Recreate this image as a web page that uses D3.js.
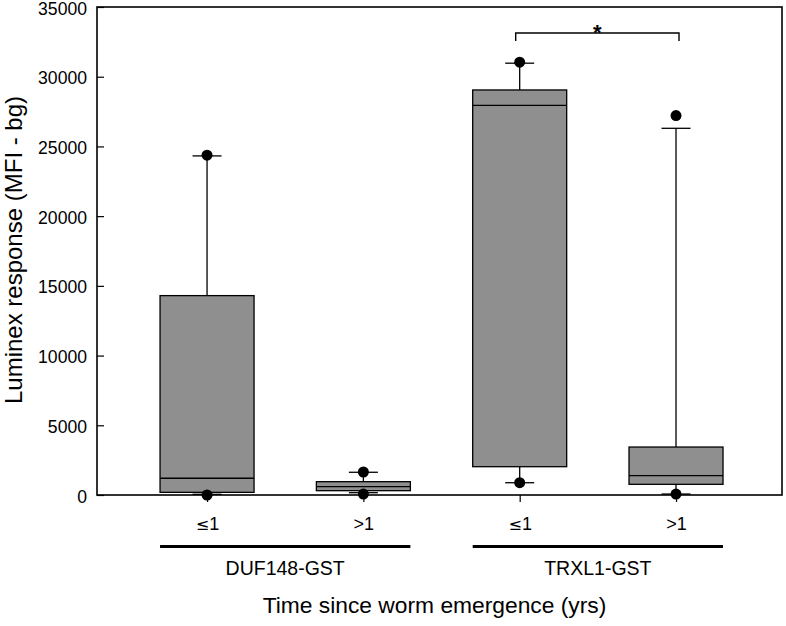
<!DOCTYPE html>
<html><head><meta charset="utf-8">
<script src="https://cdn.jsdelivr.net/npm/d3@7"></script>
<style>body{margin:0;background:#fff}svg{display:block;font-family:Arial,"Liberation Sans",sans-serif}</style>
</head><body>
<script>
const categories = ["\u22641", ">1", "\u22641", ">1"];
const groups = ["DUF148-GST", "TRXL1-GST"];
const groupOf = [0, 0, 1, 1];
const q1 = [190, 310, 2030, 765];
const median = [1200, 600, 27950, 1385];
const q3 = [14300, 955, 29050, 3440];
const whiskerLow = [50, 165, 880, 70];
const whiskerHigh = [24320, 1630, 30970, 26300];
const outlierLow = [0, 70, 880, 70];
const outlierHigh = [24370, 1650, 31040, 27210];
const yTicks = [0, 5000, 10000, 15000, 20000, 25000, 30000, 35000];

const W = 786, H = 626;
const svg = d3.select("body").append("svg").attr("width", W).attr("height", H);
const L = 97, R = 782, T = 7, B = 495;
const x = d3.scaleLinear().domain([0.296, 4.678]).range([L, R]);
const y = d3.scaleLinear().domain([0, 35000]).range([B, T]);
const boxW = 94, capW = 29;

// y axis (ticks inward)
const yAxis = svg.append("g").attr("transform", `translate(${L},0)`)
  .call(d3.axisRight(y).tickValues(yTicks).tickSize(7).tickFormat(d3.format("d")));
yAxis.select(".domain").remove();
yAxis.selectAll("line").attr("stroke", "#000").attr("stroke-width", 1.2);
yAxis.selectAll("text").attr("x", -10).attr("text-anchor", "end")
  .attr("font-size", 17.6).attr("fill", "#000").attr("dy", "0.4em");

// x axis ticks (outward)
const pos = categories.map((c, i) => i + 1);
const xAxis = svg.append("g").attr("transform", `translate(0,${B})`)
  .call(d3.axisBottom(x).tickValues(pos).tickSize(7).tickFormat(""));
xAxis.select(".domain").remove();
xAxis.selectAll("line").attr("stroke", "#000").attr("stroke-width", 1.2);
xAxis.selectAll(".tick").append("text").attr("y", 35).attr("text-anchor", "middle")
  .attr("font-size", 18).attr("fill", "#000")
  .each(function(d, i) {
    const t = d3.select(this), s = categories[i];
    if (s[0] === "\u2264") {
      t.append("tspan").attr("font-family", "DejaVu Sans").attr("font-size", 16).text(s[0]);
      t.append("tspan").text(s.slice(1));
    } else t.text(s);
  });

// frame
svg.append("rect").attr("x", L).attr("y", T).attr("width", R - L).attr("height", B - T)
  .attr("fill", "none").attr("stroke", "#000").attr("stroke-width", 1.6);

const g = svg.append("g");
pos.forEach((p, i) => {
  const cx = x(p);
  g.append("line").attr("x1", cx).attr("x2", cx).attr("y1", y(q3[i])).attr("y2", y(whiskerHigh[i])).attr("stroke", "#000").attr("stroke-width", 1.3);
  g.append("line").attr("x1", cx).attr("x2", cx).attr("y1", y(q1[i])).attr("y2", y(whiskerLow[i])).attr("stroke", "#000").attr("stroke-width", 1.3);
  [whiskerHigh[i], whiskerLow[i]].forEach(v => {
    g.append("line").attr("x1", cx - capW / 2).attr("x2", cx + capW / 2).attr("y1", y(v)).attr("y2", y(v)).attr("stroke", "#000").attr("stroke-width", 1.3);
  });
  g.append("rect").attr("x", cx - boxW / 2).attr("y", y(q3[i])).attr("width", boxW)
    .attr("height", y(q1[i]) - y(q3[i])).attr("fill", "#8f8f8f").attr("stroke", "#000").attr("stroke-width", 1.3);
  g.append("line").attr("x1", cx - boxW / 2).attr("x2", cx + boxW / 2).attr("y1", y(median[i])).attr("y2", y(median[i])).attr("stroke", "#000").attr("stroke-width", 1.3);
  [outlierHigh[i], outlierLow[i]].forEach(v => {
    g.append("circle").attr("cx", cx).attr("cy", y(v)).attr("r", 5.5).attr("fill", "#000");
  });
});

// significance bracket
const by = 33, bx1 = x(3) - 4, bx2 = x(4) + 3;
svg.append("path").attr("d", `M${bx1},${by + 8}V${by}H${bx2}V${by + 8}`)
  .attr("fill", "none").attr("stroke", "#000").attr("stroke-width", 1.4);
svg.append("text").attr("x", (bx1 + bx2) / 2).attr("y", 40).attr("text-anchor", "middle")
  .attr("font-size", 22).attr("font-weight", "bold").text("*");

// group lines and labels
groups.forEach((gname, gi) => {
  const idx = pos.filter((p, i) => groupOf[i] === gi);
  const x1 = x(idx[0]) - boxW / 2, x2 = x(idx[idx.length - 1]) + boxW / 2;
  svg.append("line").attr("x1", x1).attr("x2", x2).attr("y1", 546.5).attr("y2", 546.5)
    .attr("stroke", "#000").attr("stroke-width", 3);
  svg.append("text").attr("x", (x1 + x2) / 2).attr("y", 575).attr("text-anchor", "middle")
    .attr("font-size", 19.5).text(gname);
});

svg.append("text").attr("x", 434.5).attr("y", 613).attr("text-anchor", "middle")
  .attr("font-size", 22.8).text("Time since worm emergence (yrs)");
svg.append("text").attr("transform", `translate(22,250) rotate(-90)`).attr("text-anchor", "middle")
  .attr("font-size", 24).text("Luminex response (MFI - bg)");
</script>
</body></html>
